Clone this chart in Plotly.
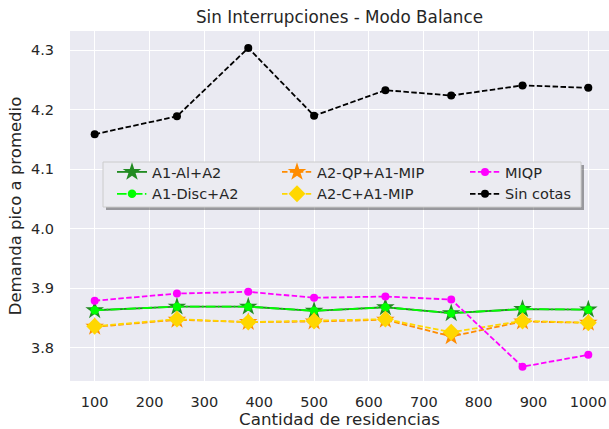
import plotly.graph_objects as go

x_vals = [100, 250, 380, 500, 630, 750, 880, 1000]
a1_al_a2 = [3.863, 3.869, 3.869, 3.862, 3.868, 3.858, 3.865, 3.864]
a1_disc_a2 = [3.863, 3.869, 3.869, 3.862, 3.868, 3.858, 3.865, 3.864]
a2_qp_a1_mip = [3.835, 3.847, 3.843, 3.844, 3.847, 3.819, 3.844, 3.842]
a2_c_a1_mip = [3.836, 3.848, 3.843, 3.845, 3.848, 3.826, 3.845, 3.842]
miqp = [3.879, 3.891, 3.894, 3.884, 3.886, 3.881, 3.768, 3.788]
sin_cotas = [4.159, 4.189, 4.304, 4.190, 4.233, 4.224, 4.241, 4.237]

x_ticks = [100, 200, 300, 400, 500, 600, 700, 800, 900, 1000]
y_ticks = [3.8, 3.9, 4.0, 4.1, 4.2, 4.3]

TXT = "#262626"
FONT = "DejaVu Sans"
LW = 1.8
DASH = "5.5px,2.4px"
DASHDOT = "9.6px,2.4px,1.5px,2.4px"

W, H = 609, 429
ML, MR, MT, MB = 70, 0, 31, 48
PW, PH = W - ML - MR, H - MT - MB

def px2x(px):
    return (px - ML) / PW

def px2y(py):
    return (H - MB - py) / PH

fig = go.Figure()

series = [
    ("A1-Al+A2", a1_al_a2, "#228B22", "solid", "star", 14, "legend"),
    ("A1-Disc+A2", a1_disc_a2, "#00FF00", DASHDOT, "circle", 8.5, "legend"),
    ("A2-QP+A1-MIP", a2_qp_a1_mip, "#FF8C00", DASH, "star", 14, "legend2"),
    ("A2-C+A1-MIP", a2_c_a1_mip, "#FFD700", DASH, "diamond", 13, "legend2"),
    ("MIQP", miqp, "#FF00FF", DASH, "circle", 8, "legend3"),
    ("Sin cotas", sin_cotas, "#000000", DASH, "circle", 8, "legend3"),
]

for name, yv, col, dash, sym, size, leg in series:
    fig.add_trace(go.Scatter(
        x=x_vals, y=yv, name=name, mode="lines+markers",
        line=dict(color=col, width=LW, dash=dash),
        marker=dict(symbol=sym, size=size, color=col, line=dict(width=0)),
        legend=leg,
    ))

leg_common = dict(
    bgcolor="rgba(0,0,0,0)", borderwidth=0,
    font=dict(family=FONT, size=14.5, color=TXT),
    yanchor="top", xanchor="left", tracegroupgap=0,
    itemwidth=30,
)
ly = px2y(156)
fig.update_layout(
    legend=dict(x=px2x(112), y=ly, **leg_common),
    legend2=dict(x=px2x(277), y=ly, **leg_common),
    legend3=dict(x=px2x(465), y=ly, **leg_common),
)

# legend frame with shadow
bx0, bx1, by0, by1 = 103, 581, 162, 207
fig.add_shape(type="rect", xref="paper", yref="paper", layer="above",
              x0=px2x(bx0 + 3), x1=px2x(bx1 + 3), y0=px2y(by1 + 3), y1=px2y(by0 + 3),
              fillcolor="rgba(0,0,0,0.35)", line=dict(width=0))
fig.add_shape(type="rect", xref="paper", yref="paper", layer="above",
              x0=px2x(bx0), x1=px2x(bx1), y0=px2y(by1), y1=px2y(by0),
              fillcolor="#EBEBF1", line=dict(color="#CCCCCC", width=1))

fig.update_layout(
    width=W, height=H,
    margin=dict(l=ML, r=MR, t=MT, b=MB, pad=0, autoexpand=False),
    paper_bgcolor="white",
    plot_bgcolor="#EAEAF2",
    font=dict(family=FONT, color=TXT),
    title=dict(text="Sin Interrupciones - Modo Balance", x=0.5, xref="paper",
               y=1 - 17 / H, yanchor="middle", automargin=False,
               font=dict(family=FONT, size=16.8, color=TXT)),
    showlegend=True,
)

fig.update_xaxes(
    automargin=False,
    range=[55, 1037.7], tickvals=x_ticks, ticktext=[str(v) for v in x_ticks],
    showgrid=True, gridcolor="white", gridwidth=1.3, zeroline=False,
    showline=False, ticks="outside", ticklen=8, tickcolor="rgba(0,0,0,0)",
    tickfont=dict(family=FONT, size=14.5, color=TXT),
    title=dict(text="Cantidad de residencias", standoff=6,
               font=dict(family=FONT, size=16.7, color=TXT)),
)
fig.update_yaxes(
    automargin=False,
    range=[3.744, 4.3325], tickvals=y_ticks, ticktext=[f"{v:.1f}" for v in y_ticks],
    showgrid=True, gridcolor="white", gridwidth=1.3, zeroline=False,
    showline=False, ticks="outside", ticklen=12, tickcolor="rgba(0,0,0,0)",
    tickfont=dict(family=FONT, size=14.5, color=TXT),
    title=dict(text="Demanda pico a promedio", standoff=5,
               font=dict(family=FONT, size=16.5, color=TXT)),
)

fig.write_html("out.html", config={"displayModeBar": False},
               post_script="document.body.style.margin='0px';document.body.style.overflow='hidden';")
